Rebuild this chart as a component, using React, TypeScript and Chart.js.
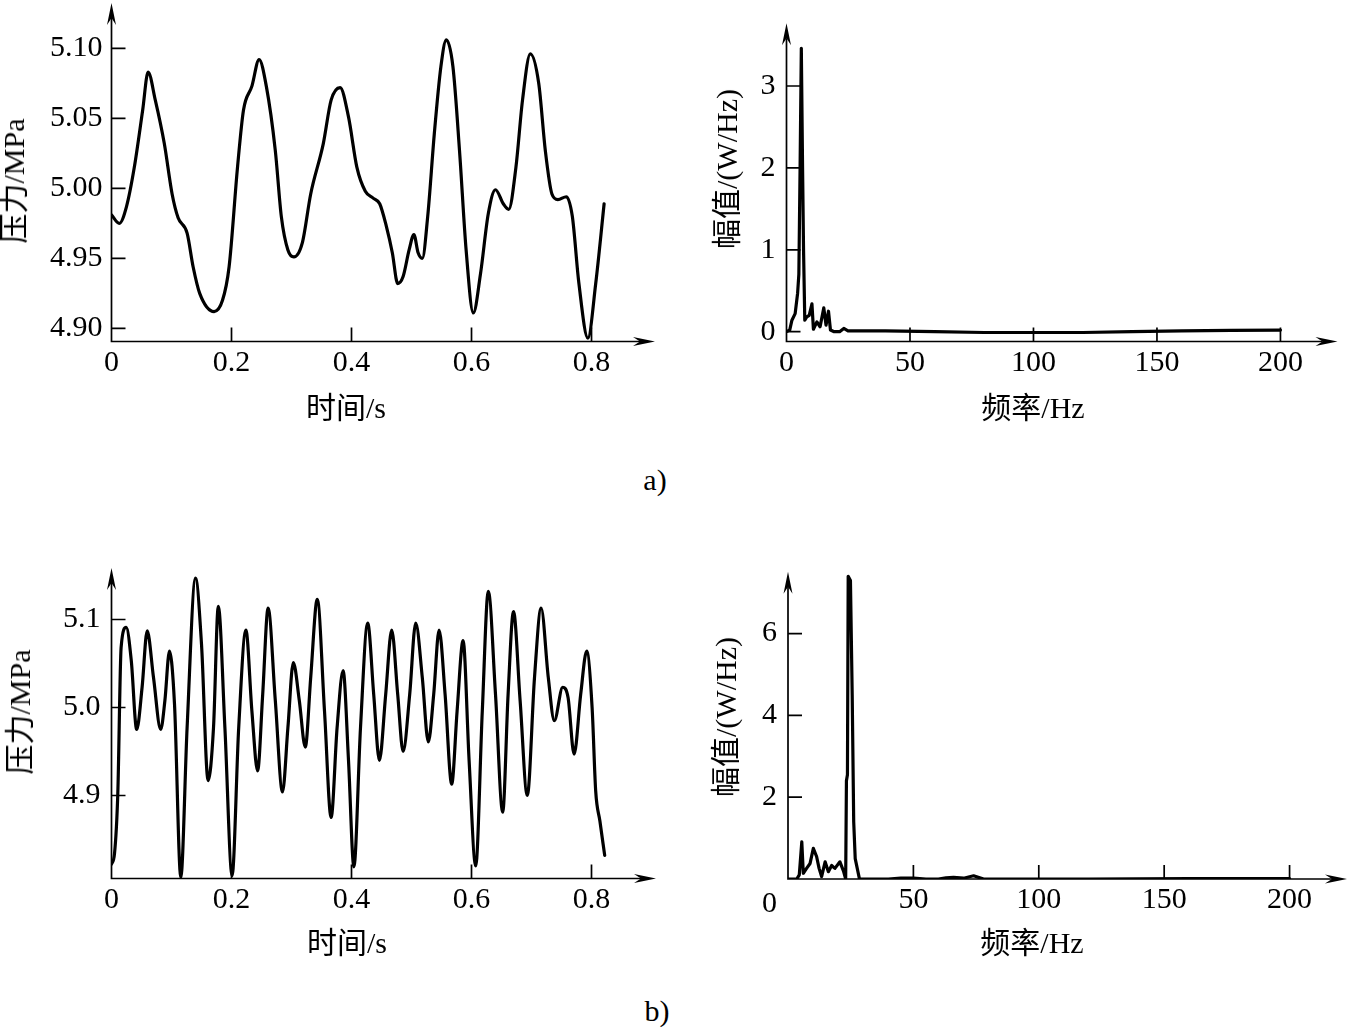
import React, { useEffect, useRef } from 'react';
import { Chart, registerables } from 'chart.js';

Chart.register(...registerables);

// ---------- data ----------
const timeA = [0, 0.013, 0.025, 0.038, 0.052, 0.061, 0.073, 0.088, 0.101, 0.111, 0.126, 0.136, 0.147, 0.171, 0.185, 0.196, 0.210, 0.220, 0.234, 0.246, 0.258, 0.273, 0.283, 0.294, 0.304, 0.318, 0.332, 0.353, 0.366, 0.381, 0.395, 0.409, 0.423, 0.436, 0.447, 0.458, 0.468, 0.477, 0.486, 0.496, 0.504, 0.511, 0.518, 0.527, 0.538, 0.549, 0.558, 0.569, 0.580, 0.591, 0.603, 0.615, 0.628, 0.640, 0.653, 0.662, 0.674, 0.685, 0.698, 0.712, 0.723, 0.734, 0.744, 0.758, 0.768, 0.779, 0.794, 0.807, 0.821];
const pressureA = [4.981, 4.975, 4.987, 5.015, 5.056, 5.083, 5.063, 5.032, 4.996, 4.979, 4.968, 4.944, 4.925, 4.912, 4.920, 4.944, 5.015, 5.056, 5.073, 5.092, 5.073, 5.027, 4.980, 4.956, 4.951, 4.961, 4.996, 5.032, 5.063, 5.072, 5.051, 5.015, 4.998, 4.993, 4.989, 4.973, 4.954, 4.932, 4.937, 4.956, 4.967, 4.954, 4.950, 4.980, 5.039, 5.087, 5.106, 5.087, 5.027, 4.956, 4.911, 4.939, 4.982, 4.999, 4.989, 4.985, 5.015, 5.063, 5.096, 5.075, 5.027, 4.996, 4.992, 4.994, 4.980, 4.932, 4.893, 4.932, 4.989];

const freqA = [0, 1.3, 2.2, 3.5, 4.5, 5.0, 5.5, 6.0, 6.5, 6.9, 7.4, 8.2, 9.2, 10.3, 10.9, 12.3, 13.6, 15.1, 16.0, 17.0, 17.8, 19.3, 21.5, 23.2, 24.9, 40, 60, 80, 100, 120, 140, 160, 180, 200];
const ampA = [0.0, 0.02, 0.14, 0.22, 0.47, 0.7, 2.0, 3.46, 2.02, 1.0, 0.14, 0.18, 0.2, 0.34, 0.03, 0.12, 0.06, 0.29, 0.08, 0.25, 0.02, 0.0, 0.0, 0.04, 0.01, 0.01, 0.0, -0.01, -0.01, -0.01, 0.0, 0.01, 0.015, 0.02];

const timeB = [0, 0.005, 0.0105, 0.016, 0.0245, 0.033, 0.042, 0.051, 0.0595, 0.070, 0.082, 0.089, 0.0966, 0.105, 0.1155, 0.126, 0.140, 0.150, 0.161, 0.170, 0.178, 0.189, 0.201, 0.212, 0.224, 0.234, 0.2435, 0.252, 0.261, 0.273, 0.285, 0.294, 0.303, 0.313, 0.323, 0.332, 0.343, 0.355, 0.366, 0.376, 0.386, 0.395, 0.404, 0.415, 0.427, 0.437, 0.4465, 0.457, 0.467, 0.477, 0.486, 0.497, 0.507, 0.518, 0.528, 0.537, 0.546, 0.556, 0.567, 0.576, 0.586, 0.596, 0.607, 0.618, 0.628, 0.640, 0.652, 0.661, 0.670, 0.681, 0.693, 0.705, 0.716, 0.728, 0.738, 0.752, 0.761, 0.771, 0.782, 0.792, 0.801, 0.807, 0.814, 0.822];
const pressureB = [4.822, 4.834, 4.902, 5.068, 5.091, 5.053, 4.975, 5.023, 5.087, 5.034, 4.975, 5.008, 5.064, 5.004, 4.807, 4.977, 5.147, 5.072, 4.917, 4.977, 5.115, 4.977, 4.809, 4.977, 5.088, 4.996, 4.928, 5.015, 5.113, 5.008, 4.904, 4.977, 5.051, 5.008, 4.955, 5.034, 5.123, 4.996, 4.875, 4.977, 5.042, 4.940, 4.819, 4.977, 5.096, 5.015, 4.940, 5.015, 5.088, 5.015, 4.950, 5.015, 5.096, 5.034, 4.961, 5.015, 5.088, 5.015, 4.913, 4.996, 5.076, 4.940, 4.820, 4.996, 5.132, 5.015, 4.881, 5.015, 5.109, 5.008, 4.900, 5.034, 5.113, 5.034, 4.985, 5.023, 5.011, 4.947, 5.015, 5.064, 5.000, 4.905, 4.871, 4.832];

const freqB = [0, 3.5, 4.5, 5.5, 6.1, 7.4, 8.8, 10.1, 11.4, 12.4, 13.4, 14.8, 16.1, 17.4, 18.7, 20.7, 22.1, 23.0, 23.3, 23.7, 24.0, 24.9, 25.6, 26.2, 26.8, 28.5, 40, 45, 50, 55, 60, 63, 66, 70, 74, 78, 120, 160, 200];
const ampB = [0, 0, 0.1, 0.91, 0.14, 0.26, 0.38, 0.75, 0.55, 0.26, 0.06, 0.42, 0.18, 0.33, 0.26, 0.42, 0.2, 0.0, 2.4, 2.55, 7.4, 7.3, 4.5, 1.4, 0.5, 0.0, 0.0, 0.02, 0.02, 0.0, 0.0, 0.03, 0.04, 0.02, 0.08, 0.0, 0.0, 0.01, 0.01];

// tick values
const timeTicks = [0, 0.2, 0.4, 0.6, 0.8];
const pressureTicksA = [4.90, 4.95, 5.00, 5.05, 5.10];
const pressureTicksB = [4.9, 5.0, 5.1];
const freqTicksA = [0, 50, 100, 150, 200];
const freqTicksB = [50, 100, 150, 200];
const ampTicksA = [0, 1, 2, 3];
const ampTicksB = [2, 4, 6];

// text
const timeTitle = '时间/s';
const pressureTitle = '压力/MPa';
const freqTitle = '频率/Hz';
const ampTitle = '幅值/(W/Hz)';

const SERIF = "'Liberation Serif', 'Times New Roman', 'Noto Sans CJK SC', serif";
const FONT_SIZE = 30;

// ---------- axis plugin: arrows + inward ticks ----------
const arrowAxes = {
  id: 'arrowAxes',
  beforeDatasetsDraw(chart: any, _args: any, opts: any) {
    const { ctx, chartArea: a, scales } = chart;
    const x0 = a.left;
    const y0 = a.bottom;
    const L = 22, W = 4.5, N = 15;
    ctx.save();
    ctx.strokeStyle = '#000';
    ctx.fillStyle = '#000';
    ctx.lineWidth = 1.7;
    ctx.beginPath();
    ctx.moveTo(x0, y0 + 0.8);
    ctx.lineTo(x0, a.top + N);
    ctx.moveTo(x0 - 0.8, y0);
    ctx.lineTo(a.right - N, y0);
    const tl = opts.tickLen || 14;
    scales.x.ticks.forEach((t: any) => {
      const px = scales.x.getPixelForValue(t.value);
      if (Math.abs(px - x0) < 2) return;
      ctx.moveTo(px, y0);
      ctx.lineTo(px, y0 - tl);
    });
    scales.y.ticks.forEach((t: any) => {
      const py = scales.y.getPixelForValue(t.value);
      if (Math.abs(py - y0) < 2) return;
      ctx.moveTo(x0, py);
      ctx.lineTo(x0 + tl, py);
    });
    ctx.stroke();
    ctx.beginPath();
    ctx.moveTo(x0, a.top);
    ctx.lineTo(x0 - W, a.top + L);
    ctx.lineTo(x0, a.top + N);
    ctx.lineTo(x0 + W, a.top + L);
    ctx.closePath();
    ctx.fill();
    ctx.beginPath();
    ctx.moveTo(a.right, y0);
    ctx.lineTo(a.right - L, y0 - W);
    ctx.lineTo(a.right - N, y0);
    ctx.lineTo(a.right - L, y0 + W);
    ctx.closePath();
    ctx.fill();
    if (opts.originLabel) {
      ctx.font = `${FONT_SIZE}px ${SERIF}`;
      ctx.textAlign = 'center';
      ctx.textBaseline = 'middle';
      ctx.fillText(opts.originLabel, x0 + opts.originDx, y0 + opts.originDy);
    }
    ctx.restore();
  },
};

type PanelProps = {
  left: number; top: number; width: number; height: number;
  xs: number[]; ys: number[];
  xMin: number; xMax: number; yMin: number; yMax: number;
  xTicks: number[]; yTicks: number[];
  xFmt: (v: number) => string; yFmt: (v: number) => string;
  padLeft: number; padTop: number; padRight: number;
  yWidth: number; xHeight: number;
  yLabelPad: number;
  smooth: boolean;
  originLabel?: string;
};

function Panel(p: PanelProps) {
  const ref = useRef<HTMLCanvasElement | null>(null);
  useEffect(() => {
    if (!ref.current) return;
    const tickFont = { family: SERIF, size: FONT_SIZE };
    const chart = new Chart(ref.current, {
      type: 'line',
      data: {
        datasets: [{
          data: p.xs.map((x, i) => ({ x, y: p.ys[i] })),
          borderColor: '#000',
          borderWidth: 3.2,
          pointRadius: 0,
          fill: false,
          tension: p.smooth ? 0.4 : 0,
          cubicInterpolationMode: p.smooth ? 'monotone' : 'default',
          borderJoinStyle: 'round',
          borderCapStyle: 'round',
        } as any],
      },
      options: {
        responsive: false,
        maintainAspectRatio: false,
        animation: false,
        layout: { padding: { left: p.padLeft, top: p.padTop, right: p.padRight, bottom: 0 } },
        plugins: {
          legend: { display: false },
          tooltip: { enabled: false },
          arrowAxes: { tickLen: 14, originLabel: p.originLabel, originDx: -18.5, originDy: 25 },
        } as any,
        scales: {
          x: {
            type: 'linear',
            min: p.xMin,
            max: p.xMax,
            grid: { display: false, drawTicks: false },
            border: { display: false },
            ticks: {
              font: tickFont, color: '#000', padding: 3.5, maxRotation: 0, autoSkip: false,
              callback: (v: any) => p.xFmt(Number(v)),
            },
            afterBuildTicks: (s: any) => { s.ticks = p.xTicks.map((v) => ({ value: v })); },
            afterFit: (s: any) => {
              s.height = p.xHeight;
              s.paddingLeft = 0; s.paddingRight = 0; s.paddingTop = 0; s.paddingBottom = 0;
            },
          },
          y: {
            type: 'linear',
            min: p.yMin,
            max: p.yMax,
            grid: { display: false, drawTicks: false },
            border: { display: false },
            ticks: {
              font: tickFont, color: '#000', padding: p.yLabelPad, autoSkip: false,
              callback: (v: any) => p.yFmt(Number(v)),
            },
            afterBuildTicks: (s: any) => { s.ticks = p.yTicks.map((v) => ({ value: v })); },
            afterFit: (s: any) => {
              s.width = p.yWidth;
              s.paddingLeft = 0; s.paddingRight = 0; s.paddingTop = 0; s.paddingBottom = 0;
            },
          },
        },
      } as any,
      plugins: [arrowAxes as any],
    });
    return () => chart.destroy();
  }, []);
  return (
    <canvas
      ref={ref}
      width={p.width}
      height={p.height}
      style={{ position: 'absolute', left: p.left, top: p.top, width: p.width, height: p.height }}
    />
  );
}

function Text({ x, y, rot, children }: { x: number; y: number; rot?: boolean; children: React.ReactNode }) {
  return (
    <div
      style={{
        position: 'absolute', left: x, top: y,
        transform: `translate(-50%, -50%)${rot ? ' rotate(-90deg)' : ''}`,
        font: `${FONT_SIZE}px ${SERIF}`, lineHeight: 1, whiteSpace: 'nowrap', color: '#000',
      }}
    >
      {children}
    </div>
  );
}

const fmtTime = (v: number) => (v === 0 ? '0' : v.toFixed(1));

export default function App() {
  return (
    <div style={{ position: 'absolute', left: 0, top: 0, width: 1352, height: 1030, background: '#fff', overflow: 'hidden' }}>
      <Panel
        left={0} top={0} width={680} height={440}
        xs={timeA} ys={pressureA}
        xMin={0} xMax={0.9058} yMin={4.8906} yMax={5.1324}
        xTicks={timeTicks} yTicks={pressureTicksA}
        xFmt={fmtTime} yFmt={(v) => v.toFixed(2)}
        padLeft={0} padTop={3} padRight={25} yWidth={111.5} xHeight={98.5}
        yLabelPad={9} smooth
      />
      <Panel
        left={690} top={0} width={662} height={440}
        xs={freqA} ys={ampA}
        xMin={0} xMax={223.1} yMin={-0.12} yMax={3.766}
        xTicks={freqTicksA} yTicks={ampTicksA}
        xFmt={(v) => String(v)} yFmt={(v) => String(v)}
        padLeft={0} padTop={23.3} padRight={14.5} yWidth={96.5} xHeight={98.5}
        yLabelPad={11} smooth={false}
      />
      <Panel
        left={0} top={520} width={680} height={460}
        xs={timeB} ys={pressureB}
        xMin={0} xMax={0.9075} yMin={4.8057} yMax={5.1585}
        xTicks={timeTicks} yTicks={pressureTicksB}
        xFmt={fmtTime} yFmt={(v) => v.toFixed(1)}
        padLeft={0} padTop={48} padRight={24} yWidth={111.5} xHeight={101.5}
        yLabelPad={11} smooth
      />
      <Panel
        left={690} top={520} width={662} height={460}
        xs={freqB} ys={ampB}
        xMin={0} xMax={222.9} yMin={0} yMax={7.513}
        xTicks={freqTicksB} yTicks={ampTicksB}
        xFmt={(v) => String(v)} yFmt={(v) => String(v)}
        padLeft={0} padTop={51.7} padRight={5} yWidth={98} xHeight={101}
        yLabelPad={11} smooth={false} originLabel="0"
      />

      <Text x={14} y={181} rot>{pressureTitle}</Text>
      <Text x={346} y={408}>{timeTitle}</Text>
      <Text x={727} y={169} rot>{ampTitle}</Text>
      <Text x={1033} y={408}>{freqTitle}</Text>
      <Text x={655} y={480}>a)</Text>

      <Text x={20} y={712} rot>{pressureTitle}</Text>
      <Text x={347} y={943}>{timeTitle}</Text>
      <Text x={726} y={717} rot>{ampTitle}</Text>
      <Text x={1032} y={943}>{freqTitle}</Text>
      <Text x={657} y={1011}>b)</Text>
    </div>
  );
}
